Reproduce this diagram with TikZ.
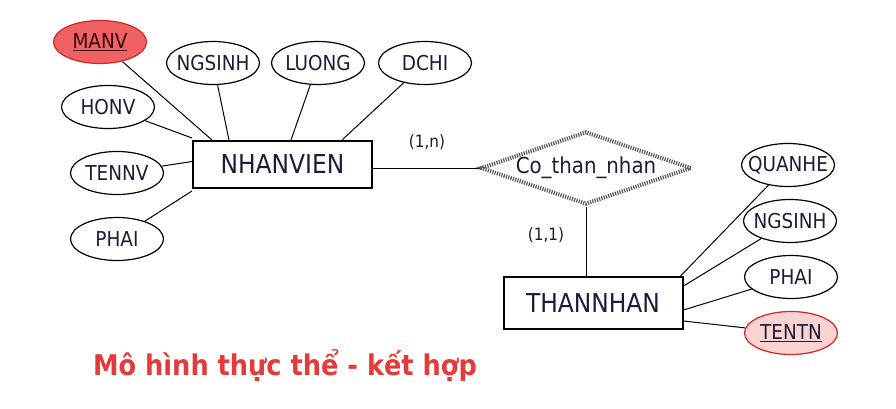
\documentclass[tikz,border=0pt]{standalone}
\usepackage{fontspec}
\setmainfont{DejaVu Sans Condensed}
\usetikzlibrary{shapes.geometric}
\definecolor{keyfill}{HTML}{F06262}
\definecolor{keyline}{HTML}{D42424}
\definecolor{weakfill}{HTML}{FAD2D2}
\definecolor{titlered}{HTML}{E43A3A}
\definecolor{inkblue}{HTML}{1C1C3A}
\begin{document}
\begin{tikzpicture}[x=1pt,y=-1pt,
        attr/.style={draw,ellipse,line width=1.2pt,minimum width=93pt,minimum height=43pt,inner xsep=-10pt,inner ysep=0pt,text=inkblue,font=\fontsize{20.5}{20.5}\selectfont},
        keyattr/.style={attr,draw=keyline,fill=keyfill,text=black!80!red},
        weakkey/.style={attr,draw=keyline,fill=weakfill},
        entity/.style={draw,line width=2pt,inner sep=0pt,minimum width=179pt,minimum height=47pt,text=inkblue,font=\fontsize{26}{26}\selectfont},
        rel/.style={diamond,draw=black!65,line width=4pt,dash pattern=on 1.2pt off 1.2pt,shape aspect=2.8,minimum width=211pt,minimum height=73pt,inner sep=0pt,text=inkblue,font=\fontsize{22}{22}\selectfont},
        card/.style={text=inkblue,font=\fontsize{17}{17}\selectfont},
        link/.style={draw,line width=1pt}]
            \useasboundingbox (0,0) rectangle (896,409);
            \node[entity] (nv) at (282.5,164.5) {NHANVIEN};
            \node[keyattr] (manv) at (100,42) {\underline{MANV}};
            \node[attr] (ngsinh) at (213,63) {NGSINH};
            \node[attr] (luong) at (318,63) {LUONG};
            \node[attr] (dchi) at (425,63) {DCHI};
            \node[attr] (honv) at (108,107) {HONV};
            \node[attr] (tennv) at (117,173) {TENNV};
            \node[attr] (phai) at (117,239) {PHAI};
            \node[rel] (cothan) at (586,168) {Co\_than\_nhan};
            \node[entity,minimum height=52pt] (tn) at (593,303) {THANNHAN};
            \node[attr] (quanhe) at (788,165) {QUANHE};
            \node[attr] (ngsinhtn) at (790,221) {NGSINH};
            \node[attr] (phaitn) at (791,277) {PHAI};
            \node[weakkey] (tentn) at (791,333) {\underline{TENTN}};
            \node[card] (cardn) at (427,142) {(1,n)};
            \node[card] (card1) at (546,235) {(1,1)};
            \node[text=titlered,font=\fontsize{28.5}{28.5}\selectfont\bfseries] (title) at (285,366) {Mô hình thực thể - kết hợp};
            \draw[link] (manv) -- ([xshift=20pt]nv.north west);
            \draw[link] (honv) -- ([yshift=2pt]nv.north west);
            \draw[link] (ngsinh) -- ([xshift=37pt]nv.north west);
            \draw[link] (luong) -- ([xshift=99pt]nv.north west);
            \draw[link] (dchi) -- ([xshift=150pt]nv.north west);
            \draw[link] (tennv) -- ([yshift=3pt]nv.west);
            \draw[link] (phai) -- ([yshift=-2pt]nv.south west);
            \draw[link] (cothan.west -| nv.east) -- (cothan.west);
            \draw[link] (cothan.south) -- (cothan.south |- tn.north);
            \draw[link] (quanhe) -- ([xshift=-3pt]tn.north east);
            \draw[link] (ngsinhtn) -- ([yshift=-10pt]tn.north east);
            \draw[link] (phaitn) -- ([yshift=-7pt]tn.east);
            \draw[link] (tentn) -- ([yshift=9pt]tn.south east);
        \end{tikzpicture}
\end{document}
